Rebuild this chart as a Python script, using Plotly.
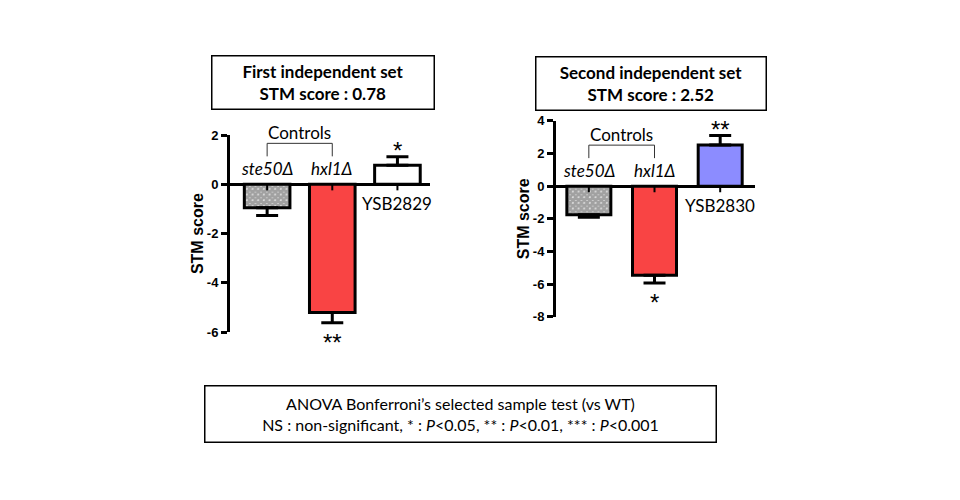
import plotly.graph_objects as go

# ---- data ----
cats1 = ["ste50Δ", "hxl1Δ", "YSB2829"]
vals1 = [-0.95, -5.2, 0.78]
errs1 = [0.32, 0.42, 0.34]
stars1 = ["", "**", "*"]

cats2 = ["ste50Δ", "hxl1Δ", "YSB2830"]
vals2 = [-1.75, -5.45, 2.52]
errs2 = [0.15, 0.48, 0.58]
stars2 = ["", "*", "**"]

title1 = ["First independent set", "STM score : 0.78"]
title2 = ["Second independent set", "STM score : 2.52"]
yticks1 = [2, 0, -2, -4, -6]
yticks2 = [4, 2, 0, -2, -4, -6, -8]
ytitle = "STM score"
group_label = "Controls"
note = ["ANOVA Bonferroni’s selected sample test (vs WT)",
        "NS : non-significant, * : <i>P</i>&lt;0.05, ** : <i>P</i>&lt;0.01, *** : <i>P</i>&lt;0.001"]

LAB_FONT = "Lato, Carlito, sans-serif"
AX_FONT = "Liberation Sans, Arial, sans-serif"

W, H = 960, 500
# calibration of the rendered page (body offset / effective plot height)
OX, OY, HEFF = 8, 14.9, 485


def px(x):
    return (x - OX) / W


def py(y):
    return 1 - (y - OY) / HEFF


fig = go.Figure()


def add_panel(cats, vals, errs, stars, last_color, xref, yref, bw):
    fill = ["white", "#F94444", last_color]
    shapes_pattern = ["x", "", ""]
    plus = [e if v > 0 else 0 for v, e in zip(vals, errs)]
    minus = [e if v < 0 else 0 for v, e in zip(vals, errs)]
    fig.add_trace(go.Bar(
        x=cats, y=vals, width=bw, xaxis=xref, yaxis=yref,
        marker=dict(color=fill, line=dict(color="black", width=3),
                    pattern=dict(shape=shapes_pattern, fgcolor="black", bgcolor="white",
                                 size=4, solidity=0.9, fillmode="overlay")),
        error_y=dict(type="data", symmetric=False, array=plus, arrayminus=minus,
                     color="black", thickness=3, width=11),
        showlegend=False, hoverinfo="skip"))
    # category ticks on the zero line
    for c in cats:
        fig.add_shape(type="line", xref=xref, yref=yref, x0=c, x1=c,
                      ysizemode="pixel", yanchor=0, y0=0, y1=-6,
                      line=dict(color="black", width=2))
    # labels
    for i, c in enumerate(cats):
        if i < 2:
            fig.add_annotation(x=c, y=0, xref=xref, yref=yref, text=f"<i>{c}</i>",
                               showarrow=False, yshift=3, yanchor="bottom",
                               font=dict(family=LAB_FONT, size=17, color="black"))
        else:
            fig.add_annotation(x=c, y=0, xref=xref, yref=yref, text=c,
                               showarrow=False, yshift=-7, yanchor="top",
                               font=dict(family=LAB_FONT, size=17, color="black"))
    # stars
    for c, v, e, s in zip(cats, vals, errs, stars):
        if not s:
            continue
        end = v + e if v > 0 else v - e
        fig.add_annotation(x=c, y=end, xref=xref, yref=yref, text=s, showarrow=False,
                           yanchor="middle", yshift=(6 if v > 0 else -20),
                           font=dict(family=AX_FONT, size=24, color="black"))
    # Controls bracket
    lw = dict(color="#333333", width=1)
    fig.add_shape(type="line", xref=xref, yref=yref, x0=cats[0], x1=cats[1],
                  ysizemode="pixel", yanchor=0, y0=41, y1=41, line=lw)
    for c in cats[:2]:
        fig.add_shape(type="line", xref=xref, yref=yref, x0=c, x1=c,
                      ysizemode="pixel", yanchor=0, y0=41, y1=28, line=lw)
    fig.add_annotation(x=0.5, y=0, xref=xref, yref=yref, text=group_label,
                       showarrow=False, yshift=39, yanchor="bottom",
                       font=dict(family=LAB_FONT, size=17, color="black"))


add_panel(cats1, vals1, errs1, stars1, "white", "x", "y", 0.7)
add_panel(cats2, vals2, errs2, stars2, "#8C8CFF", "x2", "y2", 0.67)

common_y = dict(showline=True, linecolor="black", linewidth=3, ticks="outside",
                ticklen=6, tickwidth=3, tickcolor="black", showgrid=False,
                zeroline=True, zerolinecolor="black", zerolinewidth=3,
                tickfont=dict(family=AX_FONT, size=13, color="black", weight="bold"),
                title=dict(text=ytitle, standoff=0,
                           font=dict(family=AX_FONT, size=16, color="black", weight="bold")))
common_x = dict(showline=False, showgrid=False, zeroline=False, showticklabels=False,
                ticks="", type="category")

fig.update_layout(
    width=W, height=H, margin=dict(l=0, r=0, t=0, b=0),
    paper_bgcolor="white", plot_bgcolor="rgba(0,0,0,0)",
    xaxis=dict(domain=[px(230), px(430)], range=[-0.57, 2.5], anchor="y", **common_x),
    yaxis=dict(domain=[py(332), py(135)], range=[-6, 2], tickvals=yticks1,
               ticktext=[str(t) for t in yticks1], anchor="x", **common_y),
    xaxis2=dict(domain=[px(556), px(755)], range=[-0.5, 2.53], anchor="y2", **common_x),
    yaxis2=dict(domain=[py(316.7), py(120.7)], range=[-8, 4], tickvals=yticks2,
                ticktext=[str(t) for t in yticks2], anchor="x2", **common_y),
    bargap=0.3,
)

# title boxes
box_common = dict(xref="paper", yref="paper", showarrow=False, align="center",
                  xanchor="center", yanchor="middle", valign="middle",
                  bordercolor="black", borderwidth=1.5, borderpad=0)
fig.add_annotation(x=px(322.5), y=py(82.5), text="<br>".join(title1),
                   width=221, height=52,
                   font=dict(family=LAB_FONT, size=17, color="black", weight="bold"),
                   **box_common)
fig.add_annotation(x=px(651), y=py(83), text="<br>".join(title2),
                   width=229, height=52,
                   font=dict(family=LAB_FONT, size=17, color="black", weight="bold"),
                   **box_common)
fig.add_annotation(x=px(460), y=py(413.7), text="<br>".join(note),
                   width=510, height=55,
                   font=dict(family=LAB_FONT, size=16, color="black"),
                   **box_common)

fig.write_html("out.html")
